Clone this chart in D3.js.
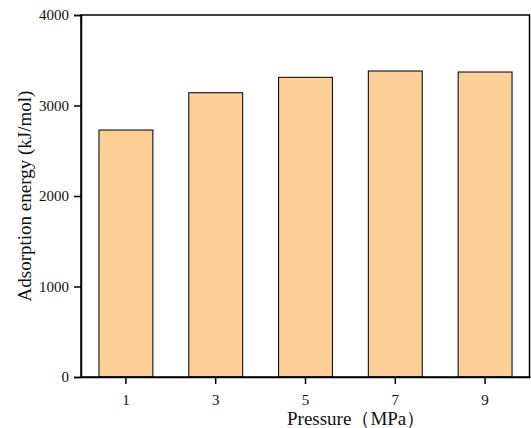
<!DOCTYPE html>
<html>
<head>
<meta charset="utf-8">
<script src="https://cdn.jsdelivr.net/npm/d3@7"></script>
<style>
  body { margin: 0; background: #fff; }
</style>
</head>
<body>
<div id="chart"></div>
<script>
// pressure (MPa) and adsorption energy (kJ/mol)
const pressures = ['1', '3', '5', '7', '9'];
const energies = [2729, 3141, 3311, 3381, 3370];
const yTicks = [0, 1000, 2000, 3000, 4000];

const serif = '"Liberation Serif", "Times New Roman", Times, serif';

const W = 531, H = 428;
const margin = { top: 15, right: 1, bottom: 51, left: 81 };
const width = W - margin.left - margin.right,
      height = H - margin.top - margin.bottom;

const svg = d3.select('#chart').append('svg')
    .attr('width', W)
    .attr('height', H)
    .attr('font-family', serif);

const g = svg.append('g')
    .attr('transform', 'translate(' + margin.left + ',' + margin.top + ')');

const x = d3.scaleBand()
    .domain(pressures)
    .range([0, width])
    .paddingInner(0.4)
    .paddingOuter(0.2);

const y = d3.scaleLinear()
    .domain([0, 4000])
    .range([height, 0]);

// bars
g.selectAll('rect.bar')
    .data(pressures)
    .join('rect')
    .attr('class', 'bar')
    .attr('x', d => x(d))
    .attr('y', (d, i) => y(energies[i]))
    .attr('width', x.bandwidth())
    .attr('height', (d, i) => height - y(energies[i]))
    .attr('fill', '#fecf96')
    .attr('stroke', '#111')
    .attr('stroke-width', 1.1);

// frame
g.append('rect')
    .attr('x', 0).attr('y', 0)
    .attr('width', width - 0.5).attr('height', height)
    .attr('fill', 'none')
    .attr('stroke', '#000')
    .attr('stroke-width', 1.5);

// y axis
const yAxis = g.append('g')
    .call(d3.axisLeft(y).tickValues(yTicks).tickSize(7).tickPadding(5).tickFormat(d3.format('d')));
yAxis.attr('font-family', serif);
yAxis.select('.domain').attr('stroke-width', 1.5);
yAxis.selectAll('.tick line').attr('stroke-width', 1.5);
yAxis.selectAll('text').style('font-size', '15px').attr('fill', '#111');

// x axis
const xAxis = g.append('g')
    .attr('transform', 'translate(0,' + height + ')')
    .call(d3.axisBottom(x).tickSize(7).tickPadding(10).tickSizeOuter(0));
xAxis.attr('font-family', serif);
xAxis.select('.domain').attr('stroke-width', 1.5);
xAxis.selectAll('.tick line').attr('stroke-width', 1.5);
xAxis.selectAll('text').style('font-size', '15px').attr('fill', '#111');

// axis titles
svg.append('text')
    .attr('transform', 'translate(31,' + (margin.top + height / 2) + ') rotate(-90)')
    .attr('text-anchor', 'middle')
    .attr('fill', '#111')
    .style('font-size', '19px')
    .text('Adsorption energy (kJ/mol)');

svg.append('text')
    .attr('x', 287)
    .attr('y', 425)
    .attr('fill', '#111')
    .style('font-size', '19px')
    .text('Pressure（MPa）');
</script>
</body>
</html>
